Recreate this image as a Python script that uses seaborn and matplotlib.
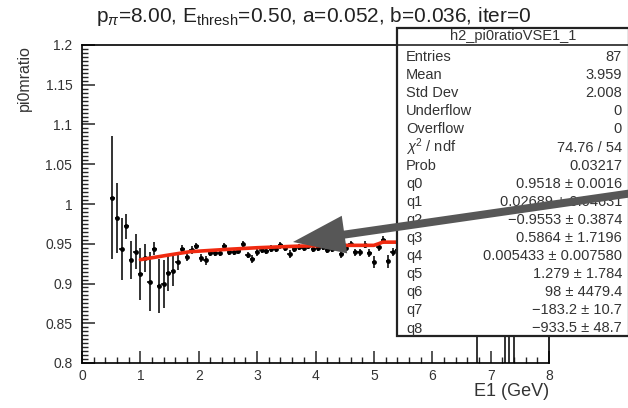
import numpy as np
import matplotlib
matplotlib.use("Agg")
import matplotlib.pyplot as plt
import seaborn as sns
import pandas as pd
from matplotlib.patches import Rectangle, FancyArrow
from matplotlib.transforms import IdentityTransform
from matplotlib.ticker import MultipleLocator

# ---- data ----
e1 = [0.52, 0.60, 0.68, 0.76, 0.84, 0.92, 1.00, 1.08, 1.16, 1.24,
      1.32, 1.40, 1.48, 1.56, 1.64, 1.72, 1.80, 1.88, 1.96, 2.04,
      2.12, 2.20, 2.28, 2.36, 2.44, 2.52, 2.60, 2.68, 2.76, 2.84,
      2.92, 3.00, 3.08, 3.16, 3.24, 3.32, 3.40, 3.48, 3.56, 3.64,
      3.72, 3.80, 3.88, 3.96, 4.04, 4.12, 4.20, 4.28, 4.36, 4.44,
      4.52, 4.60, 4.68, 4.76, 4.84, 4.92, 5.00, 5.08, 5.16, 5.24,
      5.32, 5.40, 6.76, 7.24, 7.32, 7.40]
ratio = [1.008, 0.982, 0.944, 0.972, 0.930, 0.940, 0.912, 0.932, 0.902, 0.944,
         0.897, 0.899, 0.913, 0.916, 0.927, 0.944, 0.933, 0.942, 0.947, 0.932,
         0.929, 0.938, 0.938, 0.938, 0.947, 0.940, 0.940, 0.941, 0.950, 0.936,
         0.931, 0.939, 0.942, 0.941, 0.944, 0.943, 0.948, 0.945, 0.937, 0.944,
         0.946, 0.945, 0.947, 0.944, 0.945, 0.946, 0.942, 0.944, 0.947, 0.937,
         0.945, 0.950, 0.939, 0.939, 0.949, 0.938, 0.927, 0.946, 0.955, 0.928,
         0.940, 0.942, 0.950, 0.950, 0.950, 0.950]
ratio_err = [0.077, 0.044, 0.039, 0.016, 0.024, 0.022, 0.033, 0.018, 0.037, 0.008,
             0.034, 0.030, 0.023, 0.019, 0.010, 0.005, 0.005, 0.005, 0.004, 0.005,
             0.006, 0.004, 0.004, 0.004, 0.004, 0.004, 0.004, 0.004, 0.004, 0.004,
             0.005, 0.004, 0.004, 0.004, 0.004, 0.004, 0.004, 0.004, 0.005, 0.004,
             0.004, 0.004, 0.004, 0.004, 0.004, 0.004, 0.004, 0.004, 0.004, 0.005,
             0.004, 0.004, 0.005, 0.005, 0.004, 0.005, 0.008, 0.005, 0.005, 0.008,
             0.005, 0.005, 0.300, 0.350, 0.350, 0.350]

fit_e = [1.00, 1.50, 1.85, 2.50, 3.00, 3.70, 4.50, 5.00, 5.08, 5.15, 5.45]
fit_v = [0.930, 0.936, 0.940, 0.943, 0.945, 0.947, 0.948, 0.948, 0.950, 0.952, 0.952]

stat_names = ["Entries", "Mean", "Std Dev", "Underflow", "Overflow",
              r"$\chi^{2}$ / ndf", "Prob", "q0", "q1", "q2", "q3", "q4",
              "q5", "q6", "q7", "q8"]
stat_values = ["87", "3.959", "2.008", "0", "0", "74.76 / 54", "0.03217",
               "0.9518 \u00b1 0.0016", "0.02689 \u00b1 0.04631",
               "\u22120.9553 \u00b1 0.3874", "0.5864 \u00b1 1.7196",
               "0.005433 \u00b1 0.007580", "1.279 \u00b1 1.784",
               "98 \u00b1 4479.4", "\u2212183.2 \u00b1 10.7",
               "\u2212933.5 \u00b1 48.7"]
hist_name = "h2_pi0ratioVSE1_1"
title = r"p$_{\pi}$=8.00, E$_{\rm thresh}$=0.50, a=0.052, b=0.036, iter=0"

# ---- style ----
sns.set_style("ticks")
plt.rcParams["font.family"] = ["Liberation Sans", "DejaVu Sans"]
plt.rcParams["mathtext.fontset"] = "custom"
plt.rcParams["mathtext.rm"] = "Liberation Sans"
plt.rcParams["mathtext.it"] = "Liberation Sans:italic"

W, H = 628, 408
fig = plt.figure(figsize=(W / 100, H / 100), dpi=100)
fx = lambda px: px / W
fy = lambda py: 1 - py / H

ax = fig.add_axes([fx(82), 45 / H, 467 / W, 318 / H])

df = pd.DataFrame({"E1": e1, "ratio": ratio, "err": ratio_err})
ax.errorbar(df["E1"], df["ratio"], yerr=df["err"], xerr=0.04, fmt="none",
            ecolor="#111111", elinewidth=1.2, capsize=0, zorder=2)
sns.scatterplot(data=df, x="E1", y="ratio", ax=ax, color="black", s=12,
                linewidth=0, zorder=3)
fit_df = pd.DataFrame({"E1": fit_e, "fit": fit_v})
sns.lineplot(data=fit_df, x="E1", y="fit", ax=ax, color="#f02a10", lw=2.6,
             zorder=4, sort=True)

ax.set_xlim(0, 8)
ax.set_ylim(0.8, 1.2)
ax.xaxis.set_minor_locator(MultipleLocator(0.2))
ax.yaxis.set_minor_locator(MultipleLocator(0.005))
ax.set_yticks([0.8, 0.85, 0.9, 0.95, 1.0, 1.05, 1.1, 1.15, 1.2])
ax.set_yticklabels(["0.8", "0.85", "0.9", "0.95", "1", "1.05", "1.1", "1.15", "1.2"])
ax.set_xticks(range(9))
ax.set_xticklabels([str(i) for i in range(9)])
ax.tick_params(which="major", direction="in", length=9, width=1.1,
               labelsize=10, labelcolor="#333333", top=False, right=False)
ax.tick_params(which="minor", direction="in", length=4.5, width=1.0,
               top=False, right=False)
ax.tick_params(axis="x", pad=4)
ax.tick_params(axis="y", pad=7)
for s in ax.spines.values():
    s.set_linewidth(1.2)
    s.set_color("black")
ax.set_xlabel("")
ax.set_ylabel("")

# axis titles
fig.text(fx(549), fy(391), "E1 (GeV)", ha="right", va="center", fontsize=13,
         color="#333333")
fig.text(fx(24), fy(45), "pi0mratio", ha="center", va="top", rotation=90,
         fontsize=11.5, color="#333333")

# title
fig.text(fx(96), fy(16), title, ha="left", va="center", fontsize=15,
         color="#222222")

# stats box
bx0, bx1, by0, by1 = 397, 629, 28, 336
fig.add_artist(Rectangle((fx(bx0), fy(by1)), fx(bx1) - fx(bx0), fy(by0) - fy(by1),
                         transform=fig.transFigure, facecolor="white",
                         edgecolor="#222222", lw=1.6, zorder=10))
fig.add_artist(plt.Line2D([fx(bx0), fx(bx1)], [fy(45), fy(45)],
                          transform=fig.transFigure, color="#222222", lw=1.2,
                          zorder=11))
fig.text(fx(513), fy(36), hist_name, ha="center", va="center", fontsize=10.5,
         color="#333333", zorder=12)
for i, (n, v) in enumerate(zip(stat_names, stat_values)):
    yy = 57 + i * 18.1
    fig.text(fx(406), fy(yy), n, ha="left", va="center", fontsize=10.5,
             color="#333333", zorder=12)
    fig.text(fx(622), fy(yy), v, ha="right", va="center", fontsize=10.5,
             color="#333333", zorder=12)

# arrow (figure pixels, origin bottom-left)
tip = (293, H - 242)
tail = (640, H - 192)
arr = FancyArrow(tail[0], tail[1], tip[0] - tail[0], tip[1] - tail[1],
                 width=8, head_width=38, head_length=52,
                 length_includes_head=True, color="#575757", lw=0,
                 transform=IdentityTransform(), zorder=20)
fig.add_artist(arr)

fig.savefig("out.png", dpi=100)
